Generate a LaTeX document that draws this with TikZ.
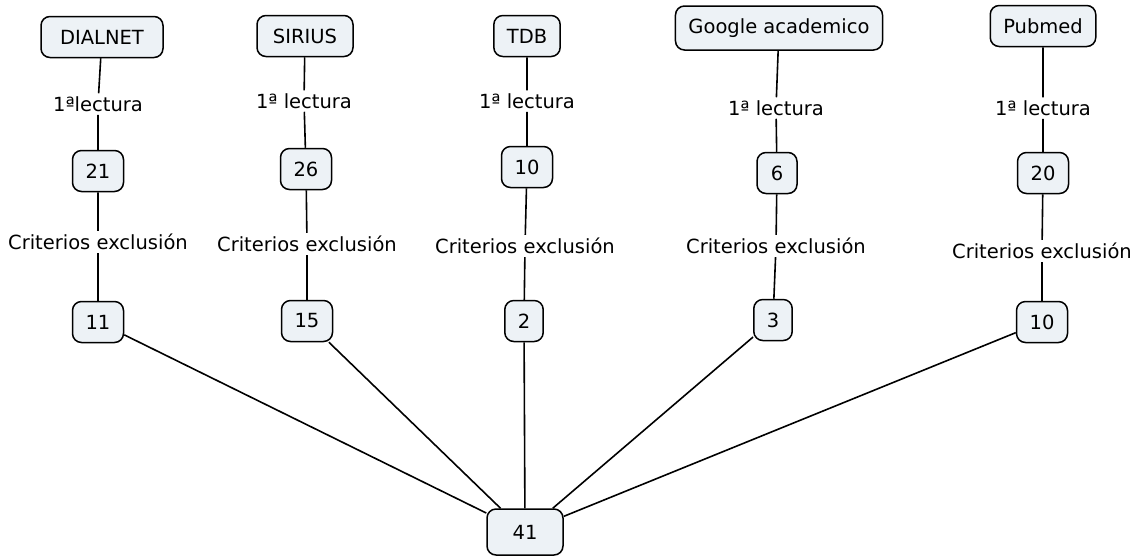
\documentclass[tikz,border=0pt]{standalone}
\usepackage{fontspec}
\setmainfont{DejaVu Sans}
\definecolor{boxfill}{RGB}{237,242,246}
\tikzset{
  box/.style={draw=black, fill=boxfill, line width=1.5pt, rounded corners=9pt,
    inner xsep=13pt, minimum height=41pt, minimum width=51pt},
  lbl/.style={inner sep=3pt},
  link/.style={line width=1.6pt}
}
\begin{document}
\begin{tikzpicture}[x=1pt,y=-1pt,font=\fontsize{19.5}{23}\selectfont]
\useasboundingbox (0,0) rectangle (1135,558);
% sources
\node[box,minimum width=122pt] (dialnet) at (102,37) {DIALNET};
\node[box,minimum width=96pt] (sirius) at (305,36) {SIRIUS};
\node[box,minimum width=65pt] (tdb) at (527,36) {TDB};
\node[box,minimum height=44pt,minimum width=204pt] (google) at (779,28) {Google academico};
\node[box,minimum width=103pt] (pubmed) at (1043,26) {Pubmed};
% after first reading
\node[box] (dia1) at (98,171) {21};
\node[box] (sir1) at (306,169) {26};
\node[box] (tdb1) at (527,167) {10};
\node[box,minimum width=40pt] (goo1) at (777,173) {6};
\node[box] (pub1) at (1043,173) {20};
% after exclusion
\node[box] (dia2) at (98,322) {11};
\node[box] (sir2) at (307,321) {15};
\node[box,minimum width=36pt] (tdb2) at (524,321) {2};
\node[box,minimum width=36pt] (goo2) at (773,320) {3};
\node[box] (pub2) at (1042,322) {10};
\node[box,minimum width=76pt,minimum height=46pt] (total) at (525,532) {41};
% labels
\node[lbl] (ldia1) at (98,104) {1ªlectura};
\node[lbl] (lsir1) at (304,101) {1ª lectura};
\node[lbl] (ltdb1) at (527,101) {1ª lectura};
\node[lbl] (lgoo1) at (776,108) {1ª lectura};
\node[lbl] (lpub1) at (1043,108) {1ª lectura};
\node[lbl] (ldia2) at (98,242) {Criterios exclusión};
\node[lbl] (lsir2) at (307,244) {Criterios exclusión};
\node[lbl] (ltdb2) at (525,246) {Criterios exclusión};
\node[lbl] (lgoo2) at (776,246) {Criterios exclusión};
\node[lbl] (lpub2) at (1042,251) {Criterios exclusión};
% connectors
\draw[link] (dialnet) -- (ldia1) -- (dia1) -- (ldia2) -- (dia2) -- (total);
\draw[link] (sirius) -- (lsir1) -- (sir1) -- (lsir2) -- (sir2) -- (total);
\draw[link] (tdb) -- (ltdb1) -- (tdb1) -- (ltdb2) -- (tdb2) -- (total);
\draw[link] (google) -- (lgoo1) -- (goo1) -- (lgoo2) -- (goo2) -- (total);
\draw[link] (pubmed) -- (lpub1) -- (pub1) -- (lpub2) -- (pub2) -- (total);
\end{tikzpicture}
\end{document}
